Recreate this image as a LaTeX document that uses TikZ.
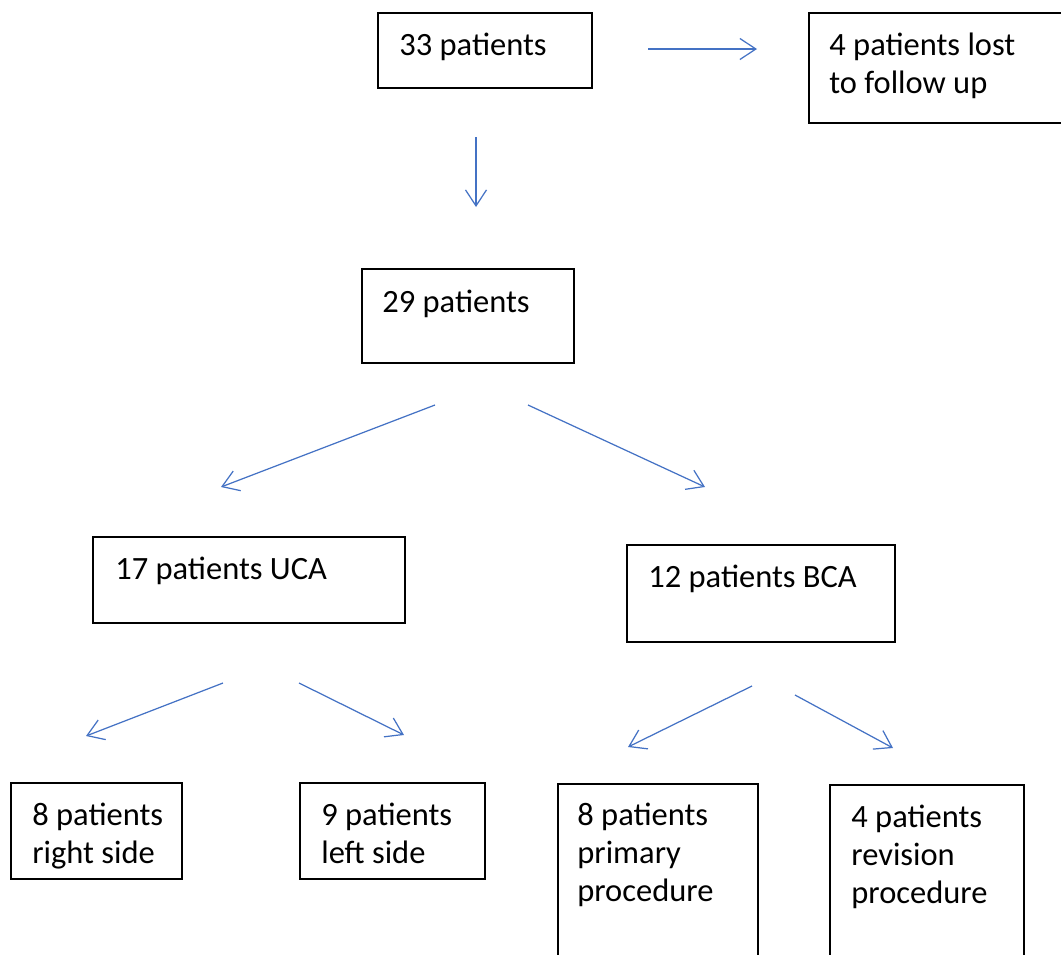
\documentclass[tikz,border=0pt]{standalone}
\usepackage{fontspec}
\setmainfont{Carlito}
\usetikzlibrary{arrows.meta,fit}
\definecolor{flowblue}{HTML}{4472C4}

\begin{document}
\begin{tikzpicture}[x=0.02cm,y=-0.02cm,
    box/.style={draw=black,line width=0.9pt,inner sep=0pt},
    txt/.style={anchor=base west,inner sep=0pt,align=left,
        font=\fontsize{18.5pt}{21.6pt}\selectfont},
    flow/.style={draw=flowblue,line width=0.7pt,
        -{Straight Barb[length=0.32cm,width=0.42cm]}}]
    \clip (0,0) rectangle (1061,954);

    % boxes; multi-line texts sit on the baseline of their last line
    \node[box,fit={(378,13) (592,88)}] (B33) {};
    \node[txt] (T33) at (399,55) {33 patients};
    \node[box,fit={(809,13) (1090,123)}] (Blost) {};
    \node[txt] (Tlost) at (829,93) {4 patients lost\\to follow up};
    \node[box,fit={(362,269) (574,363)}] (B29) {};
    \node[txt] (T29) at (382,312) {29 patients};
    \node[box,fit={(93,537) (405,623)}] (Buca) {};
    \node[txt] (Tuca) at (115,579) {17 patients UCA};
    \node[box,fit={(627,545) (895,642)}] (Bbca) {};
    \node[txt] (Tbca) at (648,587) {12 patients BCA};
    \node[box,fit={(11,783) (182,879)}] (Bright) {};
    \node[txt] (Tright) at (32,863) {8 patients\\right side};
    \node[box,fit={(300,783) (485,879)}] (Bleft) {};
    \node[txt] (Tleft) at (321,863) {9 patients\\left side};
    \node[box,fit={(558,784) (758,990)}] (Bprim) {};
    \node[txt] (Tprim) at (577,901) {8 patients\\primary\\procedure};
    \node[box,fit={(830,785) (1024,990)}] (Brev) {};
    \node[txt] (Trev) at (851,903) {4 patients\\revision\\procedure};

    % free standing arrows
    \coordinate (a1s) at (648,49);  \coordinate (a1e) at (757,49);
    \coordinate (a2s) at (476,137); \coordinate (a2e) at (476,207);
    \coordinate (a3s) at (435,405); \coordinate (a3e) at (221,487);
    \coordinate (a4s) at (528,405); \coordinate (a4e) at (705,487);
    \coordinate (a5s) at (223,683); \coordinate (a5e) at (86,736);
    \coordinate (a6s) at (299,683); \coordinate (a6e) at (404,735);
    \coordinate (a7s) at (752,686); \coordinate (a7e) at (628,747);
    \coordinate (a8s) at (795,695); \coordinate (a8e) at (893,748);

    \foreach \i in {1,...,8}
        \draw[flow] (a\i s) -- (a\i e);
\end{tikzpicture}
\end{document}
